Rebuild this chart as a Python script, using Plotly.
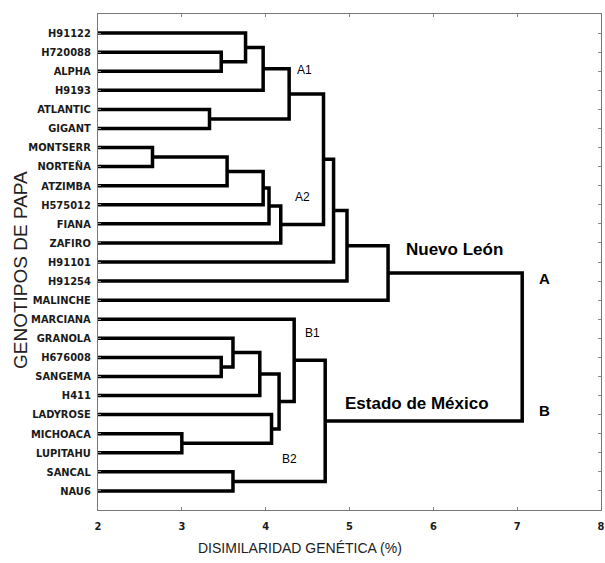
import plotly.graph_objects as go

# Leaf labels, top to bottom
leaves = ["H91122", "H720088", "ALPHA", "H9193", "ATLANTIC", "GIGANT",
          "MONTSERR", "NORTEÑA", "ATZIMBA", "H575012", "FIANA", "ZAFIRO",
          "H91101", "H91254", "MALINCHE", "MARCIANA", "GRANOLA", "H676008",
          "SANGEMA", "H411", "LADYROSE", "MICHOACA", "LUPITAHU", "SANCAL", "NAU6"]

# Merge steps: children are leaf labels or earlier merges ("m<i>"), height = dissimilarity (%)
merge_left = ["H720088", "H91122", "m1", "ATLANTIC", "m2", "MONTSERR", "m5", "m6",
              "m7", "m8", "m4", "m10", "m11", "m12", "H676008", "GRANOLA", "m15",
              "MICHOACA", "LADYROSE", "m16", "MARCIANA", "SANCAL", "m20", "m13"]
merge_right = ["ALPHA", "m0", "H9193", "GIGANT", "m3", "NORTEÑA", "ATZIMBA", "H575012",
               "FIANA", "ZAFIRO", "m9", "H91101", "H91254", "MALINCHE", "SANGEMA", "m14",
               "H411", "LUPITAHU", "m17", "m18", "m19", "NAU6", "m21", "m22"]
merge_height = [3.47, 3.76, 3.97, 3.33, 4.28, 2.65, 3.54, 3.97,
                4.04, 4.18, 4.69, 4.81, 4.97, 5.46, 3.47, 3.61, 3.93,
                3.00, 4.07, 4.16, 4.34, 3.61, 4.71, 7.06]

x_ticks = [2, 3, 4, 5, 6, 7, 8]

# Group labels
group_text = ["A1", "A2", "B1", "B2", "Nuevo León", "Estado de México", "A", "B"]
group_x = [4.46, 4.44, 4.56, 4.29, 6.25, 5.80, 7.33, 7.33]
group_y = [2.94, 9.6, 16.72, 23.33, 12.37, 20.44, 13.84, 20.76]
group_size = [12, 12, 12, 12, 17, 17, 15, 15]
group_bold = [False, False, False, False, True, True, True, True]

XMIN = 2

pos = {}
for i, name in enumerate(leaves):
    pos[name] = (XMIN, i + 1)

xs, ys = [], []
for i, (a, b, h) in enumerate(zip(merge_left, merge_right, merge_height)):
    xa, ya = pos[a]
    xb, yb = pos[b]
    xs += [xa, h, h, xb, None]
    ys += [ya, ya, yb, yb, None]
    pos["m%d" % i] = (h, (ya + yb) / 2)

fig = go.Figure()
fig.add_trace(go.Scatter(x=xs, y=ys, mode="lines",
                         line=dict(color="black", width=3.5),
                         hoverinfo="skip", showlegend=False))

tickfont = dict(family="Liberation Sans Narrow, Arial Narrow, DejaVu Sans Condensed, sans-serif",
                size=11, color="#1a1a1a", weight="bold")

fig.update_xaxes(range=[2, 8], tickvals=x_ticks, ticktext=[str(t) for t in x_ticks],
                 ticks="inside", ticklen=3, tickcolor="#888888",
                 showline=True, linecolor="#777777", linewidth=1, mirror="ticks",
                 showgrid=False, zeroline=False, tickfont=tickfont,
                 ticklabelstandoff=6, automargin=False)
fig.update_yaxes(range=[26, 0], tickvals=list(range(1, len(leaves) + 1)), ticktext=leaves,
                 ticks="inside", ticklen=3, tickcolor="#888888",
                 showline=True, linecolor="#777777", linewidth=1, mirror="ticks",
                 showgrid=False, zeroline=False, tickfont=tickfont,
                 ticklabelstandoff=4, automargin=False)

for t, x, y, s, b in zip(group_text, group_x, group_y, group_size, group_bold):
    fig.add_annotation(x=x, y=y, text=("<b>%s</b>" % t) if b else t, showarrow=False,
                       font=dict(family="Liberation Sans, Arial, sans-serif", size=s, color="black"),
                       xanchor="center", yanchor="middle")

fig.add_annotation(xref="paper", yref="paper", x=(300 - 98) / (601 - 98), y=-(548 - 510) / (510 - 14),
                   text="DISIMILARIDAD GENÉTICA (%)", showarrow=False,
                   font=dict(family="Liberation Sans, Arial, sans-serif", size=14, color="#222222"),
                   xanchor="center", yanchor="middle")
fig.add_annotation(xref="paper", yref="paper", x=-(98 - 20) / (601 - 98), y=0.5 - (270 - 262) / (510 - 14),
                   text="GENOTIPOS DE PAPA", showarrow=False, textangle=-90,
                   font=dict(family="Liberation Sans, Arial, sans-serif", size=19, color="#222222"),
                   xanchor="center", yanchor="middle")

fig.update_layout(width=605, height=563, margin=dict(l=98, r=4, t=14, b=53),
                  plot_bgcolor="white", paper_bgcolor="white")

fig.write_html("out.html", config={"displayModeBar": False},
               post_script="document.body.style.margin='0';document.body.style.overflow='hidden';")
